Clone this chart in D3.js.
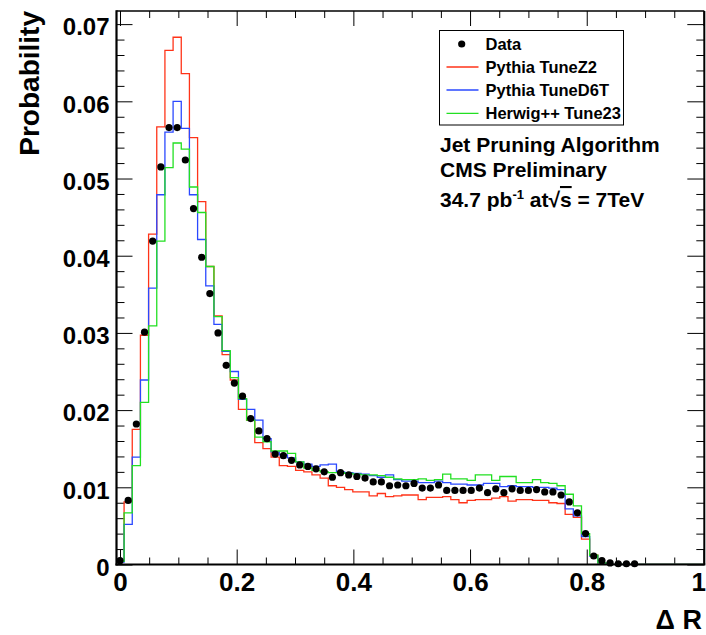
<!DOCTYPE html>
<html>
<head>
<meta charset="utf-8">
<script src="https://cdn.jsdelivr.net/npm/d3@7"></script>
<style>
body { margin: 0; background: #fff; }
svg { display: block; font-family: "Liberation Sans", Arial, Helvetica, sans-serif; font-weight: bold; }
</style>
</head>
<body>
<svg width="706" height="635"></svg>
<script>
// bins of width 0.014 centred on k * binWidth
const binWidth = 0.014;

const dataValues = [0.0005, 0.0083, 0.0182, 0.0301, 0.0419, 0.0515, 0.0566, 0.0566, 0.0524, 0.0461,
    0.0398, 0.0351, 0.0300, 0.0258, 0.0235, 0.0218, 0.0189, 0.0173, 0.0163, 0.0143,
    0.0141, 0.0135, 0.0129, 0.0127, 0.0124, 0.0120, 0.0113, 0.0119, 0.0116, 0.0114,
    0.0112, 0.0107, 0.0107, 0.0102, 0.0103, 0.0102, 0.0105, 0.0099, 0.0099, 0.0103,
    0.0096, 0.0096, 0.0096, 0.0096, 0.0099, 0.0093, 0.0098, 0.0093, 0.0098, 0.0096,
    0.0096, 0.0097, 0.0094, 0.0094, 0.0090, 0.0081, 0.0067, 0.0040, 0.0011, 0.0005,
    0.0002, 0.0001, 0.0001, 0.0001];

const z2Values = [0.0005, 0.0081, 0.0175, 0.0297, 0.0428, 0.0567, 0.0666, 0.0683, 0.0636, 0.0553,
    0.0470, 0.0386, 0.0322, 0.0272, 0.0239, 0.0201, 0.0187, 0.0158, 0.0150, 0.0139,
    0.0128, 0.0127, 0.0122, 0.0120, 0.0116, 0.0112, 0.0102, 0.0100, 0.0097, 0.0094,
    0.0094, 0.0089, 0.0092, 0.0088, 0.0089, 0.0090, 0.0090, 0.0084, 0.0087, 0.0087,
    0.0088, 0.0084, 0.0080, 0.0083, 0.0084, 0.0084, 0.0086, 0.0088, 0.0082, 0.0084,
    0.0084, 0.0083, 0.0083, 0.0080, 0.0079, 0.0065, 0.0061, 0.0033, 0.0012, 0.0002];

const d6tValues = [0.0003, 0.0052, 0.0139, 0.0239, 0.0358, 0.0479, 0.0560, 0.0600, 0.0565, 0.0479,
    0.0421, 0.0361, 0.0311, 0.0276, 0.0250, 0.0214, 0.0201, 0.0187, 0.0163, 0.0146,
    0.0142, 0.0138, 0.0133, 0.0130, 0.0127, 0.0129, 0.0130, 0.0120, 0.0119, 0.0118,
    0.0117, 0.0115, 0.0113, 0.0116, 0.0110, 0.0108, 0.0108, 0.0106, 0.0106, 0.0108,
    0.0106, 0.0104, 0.0104, 0.0103, 0.0103, 0.0105, 0.0105, 0.0101, 0.0102, 0.0101,
    0.0101, 0.0100, 0.0100, 0.0099, 0.0097, 0.0072, 0.0063, 0.0036, 0.0011, 0.0002];

const herwigValues = [0.0004, 0.0067, 0.0128, 0.0210, 0.0309, 0.0419, 0.0514, 0.0546, 0.0538, 0.0489,
    0.0456, 0.0386, 0.0321, 0.0277, 0.0242, 0.0215, 0.0187, 0.0165, 0.0159, 0.0147,
    0.0147, 0.0144, 0.0133, 0.0125, 0.0122, 0.0120, 0.0119, 0.0119, 0.0118, 0.0117,
    0.0116, 0.0116, 0.0115, 0.0113, 0.0111, 0.0110, 0.0110, 0.0111, 0.0109, 0.0110,
    0.0117, 0.0111, 0.0111, 0.0109, 0.0116, 0.0116, 0.0109, 0.0114, 0.0114, 0.0106,
    0.0106, 0.0110, 0.0106, 0.0105, 0.0102, 0.0091, 0.0076, 0.0040, 0.0012, 0.0002];

const seriesNames = ['Pythia TuneZ2', 'Pythia TuneD6T', 'Herwig++ Tune23'];
const yTicks = [0, 0.01, 0.02, 0.03, 0.04, 0.05, 0.06, 0.07];
const yTickLabels = ['0', '0.01', '0.02', '0.03', '0.04', '0.05', '0.06', '0.07'];
const xTicks = [0, 0.2, 0.4, 0.6, 0.8, 1];
const xTickLabels = ['0', '0.2', '0.4', '0.6', '0.8', '1'];

const colors = ['#ff3318', '#2a48ff', '#22e022'];
const frame = {l: 116.5, r: 704.3, t: 11, b: 564.5};

const svg = d3.select('svg');

const x = d3.scaleLinear().domain([-0.006, 1.0015]).range([frame.l, frame.r]);
const y = d3.scaleLinear().domain([0, 0.0717]).range([frame.b, frame.t]);

svg.append('defs').append('clipPath').attr('id', 'plotclip')
    .append('rect')
    .attr('x', frame.l).attr('y', frame.t)
    .attr('width', frame.r - frame.l).attr('height', frame.b - frame.t);

// minor tick values
const yMinor = d3.range(0, 0.0717, 0.002).filter(v => Math.abs(v * 100 - Math.round(v * 100)) > 1e-6);
const xMinor = d3.range(0, 1.0001, 0.05).filter(v => Math.abs(v * 5 - Math.round(v * 5)) > 1e-6);

function tickAxis(axisFn, scale, values, size, pos) {
    const g = svg.append('g')
        .attr('transform', pos)
        .call(axisFn(scale).tickValues(values).tickSizeInner(-size).tickSizeOuter(0).tickFormat(''));
    g.select('.domain').remove();
    g.selectAll('line').attr('stroke', '#000').attr('stroke-width', 1);
    return g;
}

// y axis left
const yAxisG = svg.append('g')
    .attr('transform', `translate(${frame.l},0)`)
    .call(d3.axisLeft(y).tickValues(yTicks).tickFormat((d, i) => yTickLabels[i])
        .tickSizeInner(-16).tickSizeOuter(0).tickPadding(7));
yAxisG.select('.domain').remove();
yAxisG.selectAll('text').attr('font-size', 24).attr('font-weight', 'bold').attr('dy', '0.45em')
    .attr('font-family', '"Liberation Sans", Arial, sans-serif').attr('fill', '#000');
tickAxis(d3.axisLeft, y, yMinor, 8, `translate(${frame.l},0)`);
tickAxis(d3.axisRight, y, yTicks, 17, `translate(${frame.r},0)`);
tickAxis(d3.axisRight, y, yMinor, 8, `translate(${frame.r},0)`);

// x axis bottom
const xAxisG = svg.append('g')
    .attr('transform', `translate(0,${frame.b})`)
    .call(d3.axisBottom(x).tickValues(xTicks).tickFormat((d, i) => xTickLabels[i])
        .tickSizeInner(-15).tickSizeOuter(0).tickPadding(8.5));
xAxisG.select('.domain').remove();
xAxisG.selectAll('text').attr('font-size', 26).attr('font-weight', 'bold')
    .attr('font-family', '"Liberation Sans", Arial, sans-serif').attr('fill', '#000');
// last label sits against the right edge
xAxisG.selectAll('text').filter(d => d === 1)
    .attr('text-anchor', 'end').attr('x', 705.5 - x(1));
tickAxis(d3.axisBottom, x, xMinor, 7, `translate(0,${frame.b})`);
tickAxis(d3.axisTop, x, xTicks, 15, `translate(0,${frame.t})`);
tickAxis(d3.axisTop, x, xMinor, 7, `translate(0,${frame.t})`);

// histograms as step outlines
const plotG = svg.append('g').attr('clip-path', 'url(#plotclip)');
const stepLine = d3.line().x(d => x(d[0])).y(d => y(d[1]));

[z2Values, d6tValues, herwigValues].forEach((vals, s) => {
    const pts = [[-binWidth / 2, 0]];
    vals.forEach((v, k) => {
        pts.push([(k - 0.5) * binWidth, v]);
        pts.push([(k + 0.5) * binWidth, v]);
    });
    pts.push([(vals.length - 0.5) * binWidth, 0]);
    pts.push([1.0015, 0]);
    plotG.append('path')
        .attr('d', stepLine(pts))
        .attr('fill', 'none')
        .attr('stroke', colors[s])
        .attr('stroke-width', 1.3);
});

// data points
svg.append('g').selectAll('circle')
    .data(dataValues)
    .join('circle')
    .attr('cx', (d, k) => x(k * binWidth))
    .attr('cy', d => y(d))
    .attr('r', 3.6)
    .attr('fill', '#000');

// frame
svg.append('line').attr('x1', frame.l).attr('x2', frame.r).attr('y1', frame.t).attr('y2', frame.t)
    .attr('stroke', '#000').attr('stroke-width', 1.5);
svg.append('line').attr('x1', frame.r).attr('x2', frame.r).attr('y1', frame.t).attr('y2', frame.b)
    .attr('stroke', '#000').attr('stroke-width', 2);
svg.append('line').attr('x1', frame.l).attr('x2', frame.l).attr('y1', frame.t - 0.75).attr('y2', frame.b + 1)
    .attr('stroke', '#000').attr('stroke-width', 2.2);
svg.append('line').attr('x1', frame.l - 1).attr('x2', frame.r + 1).attr('y1', frame.b).attr('y2', frame.b)
    .attr('stroke', '#000').attr('stroke-width', 2.2);

// axis titles
svg.append('text')
    .attr('transform', `translate(38.5,11) rotate(-90)`)
    .attr('text-anchor', 'end')
    .attr('font-size', 28)
    .text('Probability');

svg.append('text')
    .attr('x', 702).attr('y', 629)
    .attr('text-anchor', 'end')
    .attr('font-size', 27)
    .text('Δ R');

// legend
const legend = svg.append('g').attr('class', 'legend');
legend.append('rect')
    .attr('x', 439.5).attr('y', 30.5).attr('width', 184).attr('height', 94.5)
    .attr('fill', '#fff').attr('stroke', '#000').attr('stroke-width', 1);

const rowY = [44, 67, 90, 113.3];
legend.append('circle').attr('cx', 461.7).attr('cy', rowY[0]).attr('r', 3.6).attr('fill', '#000');
legend.append('text').attr('x', 485.5).attr('y', rowY[0] + 5.8).attr('font-size', 16.5).text('Data');
seriesNames.forEach((name, i) => {
    legend.append('line')
        .attr('x1', 446.5).attr('x2', 478.5)
        .attr('y1', rowY[i + 1]).attr('y2', rowY[i + 1])
        .attr('stroke', colors[i]).attr('stroke-width', 1.3);
    legend.append('text')
        .attr('x', 485.5).attr('y', rowY[i + 1] + 5.8)
        .attr('font-size', 16.5)
        .text(name);
});

// annotation
const note = svg.append('g').attr('font-size', 21);
note.append('text').attr('x', 440).attr('y', 151.5).text('Jet Pruning Algorithm');
note.append('text').attr('x', 440).attr('y', 177).text('CMS Preliminary');
const lumi = note.append('text').attr('x', 440).attr('y', 207);
lumi.append('tspan').text('34.7 pb');
lumi.append('tspan').attr('font-size', 13).attr('dy', -8).text('-1');
lumi.append('tspan').attr('dy', 8).text(' at');
lumi.append('tspan').text('√');
lumi.append('tspan').attr('text-decoration', 'overline').text('s');
lumi.append('tspan').text(' = 7TeV');
</script>
</body>
</html>
